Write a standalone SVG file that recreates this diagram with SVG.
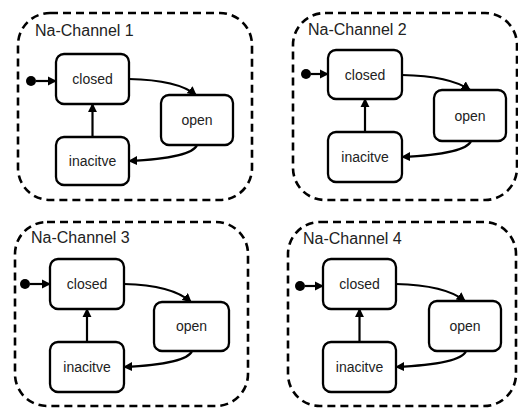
<svg xmlns="http://www.w3.org/2000/svg" width="518" height="408" viewBox="0 0 518 408">
<defs>
<marker id="ah" viewBox="0 0 10 10" refX="9" refY="5" markerWidth="4.2" markerHeight="4.2" orient="auto" markerUnits="strokeWidth">
<path d="M0,0 L10,5 L0,10 Z" fill="#000"/>
</marker>
<style>
.frame{fill:none;stroke:#000;stroke-width:2.6;stroke-dasharray:8 5}
.box{fill:#fff;stroke:#000;stroke-width:2.3}
.title{font-family:"Liberation Sans",Arial,sans-serif;font-size:16px;fill:#222}
.lbl{font-family:"Liberation Sans",Arial,sans-serif;font-size:14px;fill:#222;text-anchor:middle}
.edge{fill:none;stroke:#000;stroke-width:2.2;marker-end:url(#ah)}
.init{fill:#000}
</style>
</defs>
<rect width="518" height="408" fill="#fff"/>

<g id="panel1">
<rect class="frame" x="18" y="13" width="234" height="187" rx="32"/>
<text class="title" x="35" y="36">Na-Channel 1</text>
</g>
<g id="panel2">
<rect class="frame" x="293" y="13" width="224" height="187" rx="32"/>
<text class="title" x="308" y="35">Na-Channel 2</text>
</g>
<g id="panel3">
<rect class="frame" x="15" y="222" width="233" height="184" rx="32"/>
<text class="title" x="31" y="243">Na-Channel 3</text>
</g>
<g id="panel4">
<rect class="frame" x="288" y="222" width="228" height="184" rx="32"/>
<text class="title" x="303" y="244">Na-Channel 4</text>
</g>

<g id="connectors">
<path class="edge" d="M36,81 L56,81"/>
<path class="edge" d="M92.5,137 L92.5,104"/>
<path class="edge" d="M129,79 Q178,80 196,95"/>
<path class="edge" d="M197,145 Q192,158 129,161"/>

<path class="edge" d="M311,74 L328,74"/>
<path class="edge" d="M365,132 L365,99"/>
<path class="edge" d="M402,75 Q450,76 470,90"/>
<path class="edge" d="M471,141 Q466,154 402,157"/>

<path class="edge" d="M30,284 L50,284"/>
<path class="edge" d="M87,342 L87,309"/>
<path class="edge" d="M124,284 Q172,285 191,302"/>
<path class="edge" d="M192,351 Q187,364 124,367"/>

<path class="edge" d="M305,286 L323,286"/>
<path class="edge" d="M359.5,342 L359.5,309"/>
<path class="edge" d="M396,284 Q445,285 465,301"/>
<path class="edge" d="M466,351 Q461,364 396,367"/>
</g>

<g id="init1"><circle class="init" cx="31" cy="81" r="5"/></g>
<g id="closed1"><rect class="box" x="56" y="54" width="73" height="50" rx="8"/><text class="lbl" x="92.5" y="84">closed</text></g>
<g id="open1"><rect class="box" x="161" y="95" width="72" height="50" rx="8"/><text class="lbl" x="197" y="125">open</text></g>
<g id="inactive1"><rect class="box" x="56" y="137" width="73" height="48" rx="8"/><text class="lbl" x="92.5" y="166">inacitve</text></g>

<g id="init2"><circle class="init" cx="306" cy="74" r="5"/></g>
<g id="closed2"><rect class="box" x="328" y="50" width="74" height="49" rx="8"/><text class="lbl" x="365" y="80">closed</text></g>
<g id="open2"><rect class="box" x="434" y="90" width="72" height="51" rx="8"/><text class="lbl" x="470" y="121">open</text></g>
<g id="inactive2"><rect class="box" x="328" y="132" width="74" height="50" rx="8"/><text class="lbl" x="365" y="162">inacitve</text></g>

<g id="init3"><circle class="init" cx="25" cy="284" r="5"/></g>
<g id="closed3"><rect class="box" x="50" y="259" width="74" height="50" rx="8"/><text class="lbl" x="87" y="289">closed</text></g>
<g id="open3"><rect class="box" x="154" y="302" width="75" height="49" rx="8"/><text class="lbl" x="191.5" y="331">open</text></g>
<g id="inactive3"><rect class="box" x="50" y="342" width="74" height="50" rx="8"/><text class="lbl" x="87" y="372">inacitve</text></g>

<g id="init4"><circle class="init" cx="300" cy="286" r="5"/></g>
<g id="closed4"><rect class="box" x="323" y="259" width="73" height="50" rx="8"/><text class="lbl" x="359.5" y="289">closed</text></g>
<g id="open4"><rect class="box" x="429" y="301" width="72" height="50" rx="8"/><text class="lbl" x="465" y="331">open</text></g>
<g id="inactive4"><rect class="box" x="323" y="342" width="73" height="50" rx="8"/><text class="lbl" x="359.5" y="372">inacitve</text></g>
</svg>
